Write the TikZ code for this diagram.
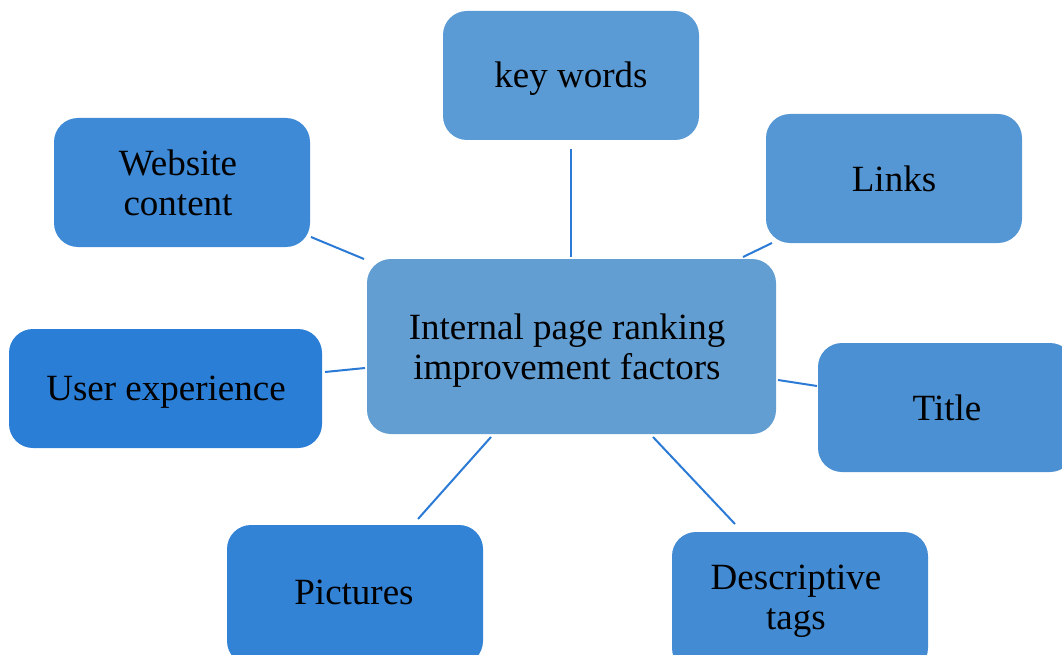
\documentclass[tikz,border=0pt]{standalone}
\usepackage{fontspec}
\setmainfont{Liberation Serif}
\definecolor{cCenter}{HTML}{629ED2}
\definecolor{cKey}{HTML}{5B9BD5}
\definecolor{cLinks}{HTML}{5597D4}
\definecolor{cWeb}{HTML}{3E8AD6}
\definecolor{cUser}{HTML}{2A7ED6}
\definecolor{cTitle}{HTML}{4A90D2}
\definecolor{cPic}{HTML}{3282D5}
\definecolor{cDesc}{HTML}{438CD3}
\definecolor{cLine}{HTML}{2A7AD6}
\tikzset{
  box/.style={rectangle, rounded corners=24pt, draw=none, align=center,
    font=\fontsize{37}{40}\selectfont, text=black, inner sep=0pt},
  lbl/.style={font=\fontsize{37}{40}\selectfont, align=center, inner sep=0pt},
  conn/.style={draw=cLine, line width=2pt}
}
\begin{document}
\begin{tikzpicture}[x=1pt,y=-1pt]
\useasboundingbox (0,0) rectangle (1062,655);
\begin{scope}
\clip (0,0) rectangle (1062,655);
\node[box, fill=cCenter, minimum width=409pt, minimum height=175pt] (c) at (571.5,346.5) {};
\node[lbl] (ct) at (567,350.5) {Internal page ranking\\improvement factors};
\node[box, fill=cKey, minimum width=256pt, minimum height=129pt] (kw) at (571,75.5) {};
\node[lbl] (kwt) at (571,79) {key words};
\node[box, fill=cLinks, minimum width=256pt, minimum height=129pt] (li) at (894,178.5) {};
\node[lbl] (lit) at (894,178.5) {Links};
\node[box, fill=cWeb, minimum width=256pt, minimum height=129pt] (wc) at (182,182.5) {};
\node[lbl] (wct) at (178,182.5) {Website\\content};
\node[box, fill=cUser, minimum width=313pt, minimum height=119pt] (ux) at (165.5,388.5) {};
\node[lbl] (uxt) at (166,392) {User experience};
\node[box, fill=cTitle, minimum width=256pt, minimum height=129pt] (ti) at (946,407.5) {};
\node[lbl] (tit) at (947,408) {Title};
\node[box, fill=cPic, minimum width=256pt, minimum height=140pt] (pi) at (355,595) {};
\node[lbl] (pit) at (354,592) {Pictures};
\node[box, fill=cDesc, minimum width=256pt, minimum height=140pt] (dt) at (800,602) {};
\node[lbl] (dtt) at (796,601.5) {Descriptive\\tags};
\end{scope}
\coordinate (kwA) at (571,149); \coordinate (kwB) at (571,257);
\coordinate (wcA) at (311,237); \coordinate (wcB) at (364,259);
\coordinate (liA) at (772,243); \coordinate (liB) at (743,257);
\coordinate (uxA) at (325,372); \coordinate (uxB) at (365,368);
\coordinate (tiA) at (778,380); \coordinate (tiB) at (817,386);
\coordinate (piA) at (418,519); \coordinate (piB) at (491,437);
\coordinate (dtA) at (653,437); \coordinate (dtB) at (735,524);
\draw[conn] (kwA) -- (kwB);
\draw[conn] (wcA) -- (wcB);
\draw[conn] (liA) -- (liB);
\draw[conn] (uxA) -- (uxB);
\draw[conn] (tiA) -- (tiB);
\draw[conn] (piA) -- (piB);
\draw[conn] (dtA) -- (dtB);
\end{tikzpicture}
\end{document}
